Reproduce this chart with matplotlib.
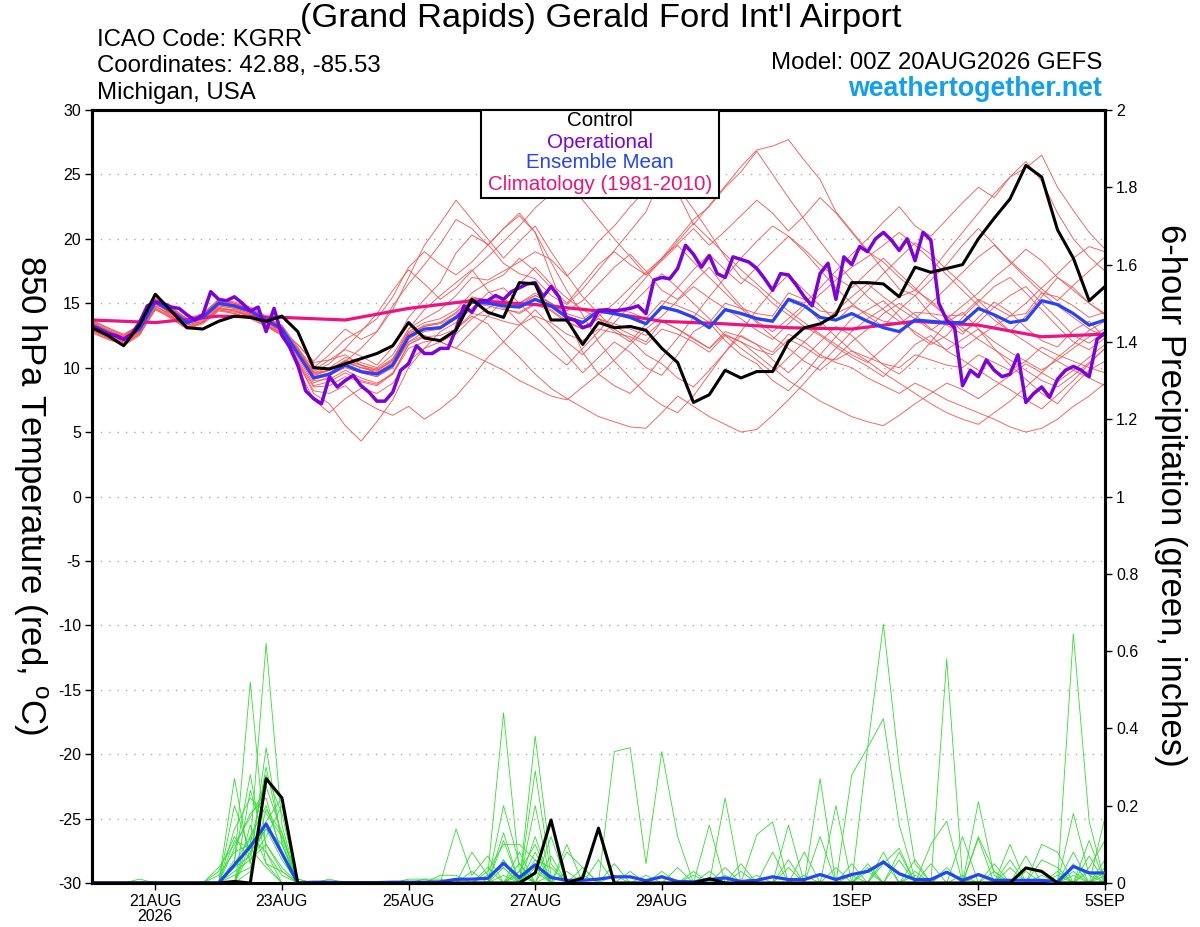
import numpy as np
import pandas as pd
import matplotlib
matplotlib.use('Agg')
import matplotlib.pyplot as plt
from matplotlib.patches import Rectangle

plt.rcParams['font.family'] = ['Liberation Sans', 'DejaVu Sans']

# ---------------- time axes ----------------
times = pd.date_range('2026-08-20 00:00', '2026-09-05 00:00', freq='6h')      # 65 steps
op_times = pd.date_range('2026-08-20 00:00', '2026-09-05 00:00', freq='3h')   # 129 steps
clim_times = pd.date_range('2026-08-20', '2026-09-05', freq='1D')             # 17 days

tick_dates = ['2026-08-21', '2026-08-23', '2026-08-25', '2026-08-27',
              '2026-08-29', '2026-09-01', '2026-09-03', '2026-09-05']
tick_labels = ['21AUG\n2026', '23AUG', '25AUG', '27AUG', '29AUG', '1SEP', '3SEP', '5SEP']

# ---------------- 850 hPa temperature (C) ----------------
control_t = [13.1, 12.5, 11.7, 13.3, 15.7, 14.4, 13.1, 13.0, 13.6, 14.0, 13.9, 13.6, 14.0,
             12.8, 10.0, 9.9, 10.3, 10.7, 11.1, 11.7, 13.5, 12.3, 12.1, 12.9, 15.3, 14.3,
             13.9, 16.6, 16.5, 13.7, 13.7, 11.8, 13.5, 13.1, 13.2, 12.9, 11.5, 10.4, 7.3,
             7.9, 9.8, 9.2, 9.7, 9.7, 12.0, 13.1, 13.4, 14.1, 16.6, 16.6, 16.5, 15.5,
             17.8, 17.4, 17.7, 18.0, 20.0, 21.6, 23.1, 25.7, 24.8, 20.7, 18.5, 15.2, 16.3]

ens_mean_t = [13.3, 12.7, 12.2, 13.0, 15.1, 14.4, 13.5, 13.9, 15.0, 14.8, 14.4, 13.7, 13.0,
              11.1, 9.2, 9.5, 10.2, 9.7, 9.5, 10.2, 12.4, 13.0, 13.1, 13.9, 15.1, 15.0,
              14.8, 14.7, 15.3, 14.8, 13.9, 13.5, 14.4, 14.2, 13.9, 13.4, 14.7, 14.4, 13.9,
              13.1, 14.5, 14.2, 13.8, 13.6, 15.3, 14.8, 13.9, 13.7, 14.2, 13.6, 13.1, 12.8,
              13.7, 13.6, 13.5, 13.5, 14.6, 14.1, 13.5, 13.7, 15.2, 14.9, 14.2, 13.3, 13.7]

operational_t = [13.2, 12.9, 12.6, 12.5, 12.2, 12.6, 13.5, 14.8, 15.1, 15.0, 14.7, 14.6, 14.1,
                 13.7, 14.1, 15.9, 15.3, 15.2, 15.5, 15.0, 14.4, 14.7, 12.8, 14.6, 12.5, 11.6,
                 10.2, 8.2, 7.6, 7.2, 9.3, 8.5, 9.0, 9.4, 8.6, 8.1, 7.4, 7.4, 8.1,
                 9.8, 10.3, 11.7, 11.1, 11.1, 11.5, 11.5, 13.0, 14.8, 14.3, 15.2, 15.2, 15.6,
                 15.3, 15.9, 16.2, 16.5, 16.6, 15.5, 16.3, 15.5, 13.8, 13.7, 13.1, 13.3, 14.4,
                 14.5, 14.4, 14.5, 14.6, 14.8, 14.2, 16.8, 17.0, 16.9, 17.7, 19.5, 18.8, 17.8,
                 18.7, 17.3, 17.0, 18.6, 18.4, 18.2, 17.7, 16.9, 16.0, 17.3, 17.2, 16.4, 15.5,
                 14.8, 17.3, 18.1, 15.3, 18.6, 18.0, 19.4, 19.0, 20.0, 20.5, 19.9, 19.1, 20.0,
                 18.3, 20.5, 19.9, 15.0, 13.7, 13.1, 8.6, 9.8, 9.3, 10.6, 9.8, 9.3, 9.5,
                 11.0, 7.3, 8.0, 8.5, 7.7, 9.1, 9.8, 10.1, 9.8, 9.3, 12.2, 12.7]

climatology_t = [13.7, 13.5, 14.0, 13.9, 13.7, 14.6, 15.2, 14.9, 14.4, 13.6, 13.4, 13.1,
                 13.0, 13.6, 13.3, 12.4, 12.6]

member_t01 = [13.0, 12.4, 12.0, 12.9, 14.8, 14.1, 13.3, 13.7, 14.7, 14.4, 14.1, 13.4, 12.8,
              11.3, 9.8, 10.6, 11.4, 10.9, 10.2, 11.6, 13.9,
              15.3, 16.6, 18.9, 20.3, 19.6, 18.1, 17.3, 16.9, 15.6, 14.9, 16.1, 17.6,
              19.1, 20.6, 22.1, 24.9, 23.6, 21.1, 22.6, 24.1, 25.6, 26.9, 27.2, 27.7, 26.1, 24.6, 22.1, 20.6,
              19.1, 17.6, 16.1, 15.6, 14.1, 13.3, 12.6, 13.9, 15.1, 14.3, 13.1, 12.1, 11.6, 12.9, 13.6, 12.3]
member_t02 = [13.6, 13.1, 12.6, 13.3, 15.4, 14.7, 13.8, 14.1, 15.3, 15.1, 14.7, 14.0, 13.2,
              10.5, 8.0, 7.2, 5.5, 4.3, 5.8, 7.5, 10.0,
              11.5, 12.8, 13.5, 14.6, 15.8, 16.2, 15.0, 13.8, 12.5, 11.0, 9.6, 10.8,
              12.0, 11.2, 10.0, 9.4, 11.0, 12.8, 13.5, 12.1, 11.0, 10.3, 9.0, 8.2, 9.5, 11.0, 12.4, 13.8,
              14.5, 15.2, 14.0, 12.6, 11.8, 12.5, 13.9, 15.1, 16.3, 17.0, 15.8, 14.5, 13.2, 12.0, 11.4, 12.3]
member_t03 = [12.8, 12.2, 11.8, 12.6, 14.5, 13.9, 13.1, 13.5, 14.5, 14.2, 13.9, 13.3, 12.7,
              11.8, 10.5, 11.8, 13.0, 12.2, 12.8, 14.5, 17.0,
              19.5, 21.2, 23.0, 21.5, 20.0, 18.5, 19.8, 21.0, 19.0, 17.2, 15.5, 14.2,
              13.0, 12.2, 11.0, 10.3, 9.2, 8.5, 9.8, 11.2, 12.5, 11.8, 10.6, 9.6, 10.8, 12.0, 13.2, 12.5,
              11.3, 10.2, 9.5, 10.6, 12.0, 13.5, 14.3, 13.0, 11.5, 10.2, 9.1, 8.0, 7.2, 8.6, 9.8, 10.5]
member_t04 = [13.5, 12.9, 12.4, 13.2, 15.2, 14.6, 13.7, 14.0, 15.2, 15.0, 14.6, 13.9, 13.3,
              11.6, 9.6, 9.8, 10.4, 10.0, 9.7, 10.6, 13.0,
              13.8, 14.5, 15.6, 17.0, 16.8, 17.5, 18.2, 19.0, 18.4, 17.1, 18.3, 19.8,
              21.0, 22.5, 23.8, 25.1, 24.0, 22.3, 20.5, 18.6, 17.0, 16.2, 15.0, 14.1, 13.2, 12.5, 11.6, 10.8,
              10.1, 9.3, 10.5, 11.8, 12.5, 11.3, 10.6, 9.8, 9.0, 8.3, 7.5, 6.8, 7.9, 9.0, 10.3, 11.5]
member_t05 = [13.1, 12.6, 12.3, 13.1, 15.0, 14.3, 13.6, 13.8, 14.8, 14.6, 14.2, 13.6, 12.9,
              11.0, 9.0, 9.1, 9.8, 9.2, 8.8, 9.5, 11.8,
              12.4, 12.5, 13.0, 14.0, 13.4, 12.0, 10.8, 9.5, 8.4, 7.6, 6.9, 6.2,
              5.8, 5.4, 5.3, 6.5, 7.8, 7.0, 6.2, 5.6, 5.0, 5.2, 6.3, 7.5, 8.8, 10.2, 11.5, 12.8,
              13.8, 14.6, 15.5, 16.0, 15.2, 14.0, 12.8, 13.5, 14.7, 15.6, 16.3, 15.0, 13.8, 12.5, 11.9, 12.8]
member_t06 = [13.4, 12.8, 12.1, 12.9, 15.0, 14.2, 13.4, 13.8, 14.9, 14.7, 14.3, 13.5, 12.8,
              10.8, 8.8, 9.3, 10.5, 11.5, 12.8, 14.8, 16.5,
              18.0, 19.6, 21.5, 20.8, 19.5, 20.8, 21.8, 20.5, 18.2, 16.0, 14.1, 12.0,
              10.5, 9.2, 8.0, 7.1, 6.5, 7.8, 9.5, 11.2, 12.8, 14.5, 16.0, 17.2, 16.0, 14.8, 13.6, 14.8,
              16.0, 17.3, 18.5, 19.7, 18.8, 17.6, 16.5, 15.2, 14.0, 12.8, 14.0, 15.5, 17.0, 16.2, 15.0, 14.1]
member_t07 = [12.9, 12.3, 11.9, 12.7, 14.6, 14.0, 13.1, 13.5, 14.6, 14.4, 14.0, 13.3, 12.5,
              10.4, 8.5, 8.6, 9.3, 8.9, 8.6, 9.5, 11.5,
              12.0, 12.2, 13.0, 14.2, 14.0, 13.6, 13.3, 14.0, 13.5, 12.6, 12.1, 13.0,
              12.7, 12.4, 11.8, 13.0, 12.6, 12.0, 11.2, 12.5, 12.0, 11.4, 11.0, 12.2, 11.6, 10.8, 10.6, 11.3,
              10.8, 10.3, 10.0, 11.0, 10.6, 10.2, 10.0, 11.0, 10.4, 9.8, 10.5, 11.6, 11.0, 10.5, 10.0, 9.6]
member_t08 = [13.6, 13.0, 12.5, 13.3, 15.3, 14.7, 13.8, 14.2, 15.3, 15.0, 14.6, 13.9, 13.2,
              11.3, 9.4, 9.8, 10.6, 10.2, 9.9, 10.7, 12.7,
              13.2, 13.4, 14.0, 15.3, 15.1, 14.9, 14.8, 15.4, 14.9, 14.0, 13.6, 14.5,
              14.3, 14.0, 13.5, 14.8, 14.5, 14.0, 13.2, 14.6, 14.3, 13.9, 13.7, 15.4, 15.0, 16.2, 17.5, 18.8,
              20.0, 21.3, 22.5, 21.0, 20.2, 21.5, 22.8, 24.0, 23.2, 24.8, 25.5, 26.5, 24.0, 22.2, 20.5, 19.2]
member_t09 = [13.0, 12.5, 12.1, 12.8, 14.7, 14.2, 13.3, 13.6, 14.6, 14.5, 14.1, 13.5, 12.9,
              11.2, 9.3, 9.6, 10.4, 10.0, 9.6, 10.4, 12.5,
              13.2, 13.5, 14.2, 15.5, 15.2, 15.0, 15.0, 15.8, 15.0, 14.0, 13.2, 13.8,
              13.2, 12.6, 12.0, 13.6, 13.0, 12.2, 11.5, 12.8, 12.4, 11.8, 11.2, 12.6, 12.0, 11.0, 10.4, 10.0,
              9.2, 8.6, 8.0, 8.8, 8.2, 7.5, 7.0, 6.5, 6.0, 5.4, 5.0, 5.3, 6.0, 7.0, 7.8, 8.8]
member_t10 = [13.2, 12.6, 12.2, 13.0, 15.2, 14.5, 13.6, 14.0, 15.1, 14.9, 14.5, 13.8, 13.1,
              11.5, 10.0, 11.0, 12.2, 12.9, 13.8, 15.5, 17.8,
              19.0, 18.0, 17.2, 18.2, 19.5, 20.8, 22.0, 20.5, 17.2, 14.0, 11.2, 9.5,
              8.6, 8.0, 9.2, 10.8, 12.3, 13.9, 15.5, 17.0, 18.5, 19.8, 21.0, 20.2, 19.0, 17.6, 16.2, 15.0,
              14.0, 13.2, 14.5, 15.6, 16.8, 18.0, 19.5, 20.8, 19.6, 18.2, 17.0, 15.8, 14.8, 13.9, 13.0, 12.4]
member_t11 = [13.7, 13.1, 12.5, 13.2, 15.0, 14.4, 13.6, 14.0, 15.0, 14.8, 14.4, 13.7, 13.1,
              11.4, 9.7, 10.3, 11.5, 12.8, 14.2, 16.0, 17.6,
              16.5, 15.3, 16.2, 17.5, 18.6, 19.8, 21.0, 22.4, 23.5, 24.5, 23.0, 21.5,
              20.0, 18.6, 17.2, 18.3, 19.5, 18.2, 17.0, 15.8, 14.6, 13.5, 12.4, 11.5, 10.5, 9.8, 10.8, 12.0,
              13.0, 14.2, 15.0, 14.1, 13.0, 12.2, 11.5, 12.4, 13.2, 14.0, 15.0, 16.2, 17.3, 18.5, 19.4, 19.0]
member_t12 = [12.7, 12.2, 11.8, 12.6, 14.5, 13.9, 13.1, 13.5, 14.5, 14.3, 14.0, 13.3, 12.6,
              10.0, 7.5, 6.5, 7.6, 8.4, 8.0, 8.8, 10.5,
              11.5, 12.0, 12.6, 13.8, 14.6, 15.3, 14.8, 15.6, 15.0, 14.4, 15.2, 16.5,
              17.8, 18.8, 17.5, 16.0, 15.3, 16.6, 17.8, 16.2, 14.8, 13.6, 12.8, 13.8, 14.9, 13.6, 12.4, 11.3,
              10.5, 9.6, 8.8, 8.0, 7.2, 6.5, 6.0, 5.6, 6.5, 7.4, 8.5, 9.6, 10.8, 11.8, 12.9, 13.6]
member_t13 = [13.3, 12.8, 12.4, 13.1, 15.0, 14.5, 13.6, 13.9, 15.0, 14.7, 14.3, 13.6, 13.0,
              11.0, 9.1, 9.4, 10.0, 9.6, 9.3, 10.1, 12.2,
              13.0, 13.2, 14.0, 15.0, 15.1, 14.6, 14.2, 14.9, 14.4, 13.5, 13.0, 14.0,
              15.0, 16.2, 17.4, 18.5, 19.6, 20.8, 19.5, 20.6, 21.8, 23.0, 22.0, 20.6, 21.8, 23.2, 22.0, 20.5,
              19.0, 18.2, 17.0, 16.0, 17.4, 19.0, 20.5, 22.0, 23.5, 24.8, 26.0, 24.5, 22.0, 20.0, 18.6, 17.5]
member_t14 = [12.9, 12.3, 11.7, 12.5, 14.6, 13.8, 13.0, 13.4, 14.4, 14.2, 13.8, 13.2, 12.5,
              10.3, 8.2, 8.0, 8.6, 7.5, 6.8, 6.3, 7.0,
              6.0, 6.8, 7.8, 9.2, 10.8, 12.0, 13.3, 14.5, 13.2, 12.0, 11.0, 12.3,
              13.5, 14.8, 16.0, 17.3, 16.2, 15.0, 13.8, 12.5, 11.5, 10.6, 9.6, 10.8, 12.0, 13.2, 14.4, 15.5,
              16.5, 15.5, 14.6, 13.8, 12.9, 13.8, 14.8, 15.8, 17.0, 18.0, 19.2, 18.3, 17.0, 16.0, 15.0, 14.2]
member_t15 = [13.4, 12.9, 12.3, 13.0, 15.1, 14.3, 13.5, 13.9, 15.0, 14.9, 14.5, 13.8, 13.1,
              11.2, 9.4, 9.8, 10.5, 10.2, 9.8, 10.6, 12.8,
              13.5, 13.8, 14.5, 15.8, 16.6, 17.2, 18.5, 17.5, 16.2, 15.0, 16.5, 18.0,
              19.0, 18.0, 17.2, 18.5, 20.0, 21.5, 22.5, 24.0, 25.2, 26.8, 25.0, 23.2, 21.5, 19.8, 18.2, 16.8,
              15.5, 14.5, 13.6, 12.8, 12.0, 11.4, 12.2, 13.0, 12.0, 11.2, 10.5, 9.8, 10.6, 11.5, 12.4, 13.0]
member_t16 = [13.1, 12.7, 12.3, 13.0, 14.9, 14.3, 13.5, 13.8, 14.9, 14.7, 14.3, 13.7, 13.0,
              11.4, 9.6, 10.0, 10.8, 10.4, 10.0, 11.0, 13.0,
              14.5, 15.6, 16.6, 17.6, 16.0, 14.8, 13.5, 12.4, 11.2, 10.2, 11.5, 12.8,
              14.2, 15.6, 17.0, 18.4, 19.8, 21.2, 20.0, 18.8, 17.6, 16.5, 15.4, 14.4, 13.5, 12.6, 11.8, 11.0,
              10.4, 11.5, 12.6, 13.8, 15.0, 16.2, 17.4, 18.6, 19.5, 18.3, 17.2, 16.1, 15.2, 16.4, 17.5, 18.6]
member_t17 = [13.5, 12.9, 12.3, 13.1, 15.0, 14.5, 13.7, 14.1, 15.1, 14.8, 14.4, 13.8, 13.2,
              11.1, 9.2, 9.5, 10.1, 9.6, 9.3, 10.0, 12.0,
              12.8, 13.0, 13.8, 15.0, 14.8, 14.5, 14.3, 15.0, 14.5, 13.6, 13.0, 13.8,
              13.4, 13.0, 12.5, 13.6, 13.0, 12.3, 11.5, 12.6, 12.0, 11.0, 10.0, 9.0, 8.2, 7.4, 6.8, 6.2,
              5.8, 5.5, 6.3, 7.2, 8.0, 8.8, 8.3, 7.6, 8.5, 9.4, 10.3, 9.6, 8.9, 9.8, 10.8, 11.8]
member_t18 = [13.4, 12.9, 12.4, 13.2, 15.3, 14.6, 13.7, 14.1, 15.2, 15.0, 14.5, 13.8, 13.2,
              11.4, 9.5, 9.8, 10.5, 10.0, 9.8, 10.5, 12.6,
              13.3, 13.5, 14.3, 15.4, 15.3, 15.1, 15.0, 15.6, 15.0, 14.2, 13.8, 14.6,
              14.5, 14.3, 13.8, 15.2, 14.8, 14.3, 13.5, 15.0, 14.6, 14.2, 14.0, 15.8, 15.3, 14.4, 14.2, 14.8,
              14.2, 13.6, 13.4, 14.3, 14.2, 14.0, 14.1, 15.3, 14.7, 14.0, 14.2, 15.8, 15.5, 14.8, 13.9, 14.3]
member_t19 = [13.2, 12.6, 12.0, 12.8, 15.0, 14.2, 13.4, 13.8, 14.8, 14.6, 14.2, 13.5, 12.9,
              11.8, 10.4, 10.6, 11.0, 10.2, 9.5, 10.0, 12.0,
              12.5, 12.0, 11.5, 12.8, 14.0, 15.2, 16.5, 17.8, 16.5, 15.4, 14.5, 13.8,
              12.8, 12.0, 13.4, 14.8, 16.2, 17.6, 18.8, 17.6, 16.5, 17.8, 19.0, 20.2, 19.2, 18.0, 17.0, 16.2,
              17.4, 18.5, 17.3, 16.2, 15.0, 14.0, 13.1, 12.2, 11.4, 10.6, 9.8, 9.0, 8.5, 9.4, 10.4, 11.5]
member_t20 = [13.0, 12.4, 11.9, 12.7, 14.8, 14.0, 13.2, 13.6, 14.6, 14.4, 14.0, 13.3, 12.7,
              10.6, 8.6, 8.9, 9.6, 9.0, 8.7, 9.6, 11.8,
              12.4, 12.0, 11.5, 11.0, 10.4, 9.8, 9.0, 8.4, 7.8, 7.5, 8.5, 9.5,
              10.6, 11.8, 13.0, 14.0, 15.2, 16.3, 15.4, 14.6, 13.8, 12.9, 12.2, 13.4, 14.6, 15.7, 16.8, 17.8,
              18.6, 19.5, 20.5, 19.5, 18.4, 17.2, 16.0, 14.8, 13.7, 12.8, 12.0, 11.2, 10.5, 9.8, 9.2, 8.6]

temp_members = [member_t01, member_t02, member_t03, member_t04, member_t05, member_t06, member_t07,
                member_t08, member_t09, member_t10, member_t11, member_t12, member_t13, member_t14,
                member_t15, member_t16, member_t17, member_t18, member_t19, member_t20]

# ---------------- 6-hour precipitation (inches) ----------------
control_p = [0, 0, 0, 0, 0, 0, 0, 0, 0, 0.004, 0, 0.27, 0.22,
             0, 0, 0, 0, 0, 0, 0, 0, 0, 0, 0, 0, 0,
             0, 0, 0.026, 0.163, 0, 0.013, 0.142, 0, 0, 0, 0, 0, 0,
             0.011, 0, 0, 0, 0, 0, 0, 0, 0, 0, 0, 0, 0,
             0, 0, 0, 0, 0, 0, 0, 0.039, 0.03, 0, 0, 0, 0]

ens_mean_p = [0, 0, 0, 0, 0, 0, 0, 0, 0, 0.047, 0.094, 0.153, 0.077,
              0, 0.002, 0.002, 0.001, 0.001, 0.001, 0.002, 0.002, 0.002, 0.003, 0.0095, 0.01, 0.012,
              0.051, 0.014, 0.047, 0.014, 0.007, 0.007, 0.01, 0.016, 0.016, 0.006, 0.016, 0.004, 0.003,
              0.009, 0.013, 0.004, 0.007, 0.016, 0.009, 0.009, 0.022, 0.009, 0.022, 0.03, 0.054, 0.024,
              0.009, 0.009, 0.028, 0.007, 0.022, 0.007, 0.007, 0.007, 0.007, 0.003, 0.043, 0.026, 0.026]

# member precipitation: non-zero 6-h steps only (step index -> inches)
member_p01 = {9: 0.05, 10: 0.52, 11: 0.08, 12: 0.02, 26: 0.20, 27: 0.05, 40: 0.22,
              49: 0.35, 50: 0.67, 51: 0.30, 52: 0.05, 62: 0.02}
member_p02 = {10: 0.10, 11: 0.62, 12: 0.15, 24: 0.08, 25: 0.02, 26: 0.44, 27: 0.03,
              46: 0.27, 54: 0.58, 55: 0.01}
member_p03 = {9: 0.27, 10: 0.05, 11: 0.35, 12: 0.10, 28: 0.38, 29: 0.05, 33: 0.34, 34: 0.35,
              35: 0.05, 36: 0.34, 37: 0.12, 62: 0.645, 63: 0.16}
member_p04 = {9: 0.14, 10: 0.22, 11: 0.18, 12: 0.12, 13: 0.01, 23: 0.14, 24: 0.02, 25: 0.07,
              28: 0.29, 29: 0.02, 48: 0.28, 49: 0.35, 50: 0.425, 51: 0.15, 52: 0.01}
member_p05 = {8: 0.04, 9: 0.10, 10: 0.17, 11: 0.25, 12: 0.13, 26: 0.13, 28: 0.20, 42: 0.125,
              43: 0.158, 56: 0.21, 57: 0.02, 64: 0.17}
member_p06 = {10: 0.12, 11: 0.20, 12: 0.08, 25: 0.03, 26: 0.10, 27: 0.10, 28: 0.06, 29: 0.04,
              39: 0.15, 52: 0.03, 56: 0.115, 63: 0.04, 64: 0.11}
member_p07 = {9: 0.06, 10: 0.28, 11: 0.05, 12: 0.03, 22: 0.02, 23: 0.02, 26: 0.06, 30: 0.10,
              44: 0.15, 47: 0.20, 58: 0.10, 62: 0.18, 63: 0.02}
member_p08 = {9: 0.20, 10: 0.08, 11: 0.14, 12: 0.06, 28: 0.08, 31: 0.04, 35: 0.02, 45: 0.08,
              53: 0.10, 54: 0.16, 61: 0.03, 64: 0.06}
member_p09 = {8: 0.02, 9: 0.08, 10: 0.10, 11: 0.28, 12: 0.18, 27: 0.03, 29: 0.12, 36: 0.03,
              41: 0.05, 50: 0.05, 51: 0.09, 59: 0.07, 63: 0.11}
member_p10 = {10: 0.15, 11: 0.05, 26: 0.06, 28: 0.05, 33: 0.05, 38: 0.03, 46: 0.12, 48: 0.05,
              55: 0.12, 57: 0.03, 62: 0.05}
member_p11 = {9: 0.09, 10: 0.18, 11: 0.22, 12: 0.07, 24: 0.03, 27: 0.02, 32: 0.06, 40: 0.04,
              49: 0.04, 56: 0.12, 57: 0.03, 60: 0.06, 61: 0.04}
member_p12 = {9: 0.03, 10: 0.06, 11: 0.12, 12: 0.20, 25: 0.02, 26: 0.04, 28: 0.12, 30: 0.08,
              31: 0.04, 43: 0.08, 51: 0.08, 58: 0.04, 62: 0.03, 64: 0.02}
member_p13 = {10: 0.24, 11: 0.10, 12: 0.04, 20: 0.01, 21: 0.01, 27: 0.08, 29: 0.02, 37: 0.04,
              44: 0.04, 50: 0.08, 54: 0.03, 63: 0.07}
member_p14 = {9: 0.02, 10: 0.04, 11: 0.16, 12: 0.22, 13: 0.01, 28: 0.03, 34: 0.03, 39: 0.03,
              48: 0.02, 53: 0.05, 60: 0.10, 61: 0.08}
member_p15 = {8: 0.03, 9: 0.12, 10: 0.06, 11: 0.10, 12: 0.03, 26: 0.02, 29: 0.07, 42: 0.02,
              49: 0.03, 51: 0.06, 57: 0.05, 64: 0.03}
member_p16 = {3: 0.01, 10: 0.08, 11: 0.14, 12: 0.10, 27: 0.05, 30: 0.03, 45: 0.02, 52: 0.06,
              59: 0.03, 62: 0.08}
member_p17 = {9: 0.05, 10: 0.12, 11: 0.08, 15: 0.01, 26: 0.11, 28: 0.04, 36: 0.02, 41: 0.03,
              47: 0.04, 55: 0.02, 61: 0.02}
member_p18 = {10: 0.03, 11: 0.19, 12: 0.13, 21: 0.01, 22: 0.01, 26: 0.04, 31: 0.02, 38: 0.02,
              50: 0.06, 56: 0.02, 63: 0.03}
member_p19 = {9: 0.11, 10: 0.09, 11: 0.04, 27: 0.03, 28: 0.10, 33: 0.02, 44: 0.06, 52: 0.02,
              58: 0.06, 64: 0.04}
member_p20 = {9: 0.04, 10: 0.07, 11: 0.30, 12: 0.11, 25: 0.04, 28: 0.06, 40: 0.02, 49: 0.05,
              54: 0.04, 60: 0.02}

precip_members = [member_p01, member_p02, member_p03, member_p04, member_p05, member_p06,
                  member_p07, member_p08, member_p09, member_p10, member_p11, member_p12,
                  member_p13, member_p14, member_p15, member_p16, member_p17, member_p18,
                  member_p19, member_p20]

temp_ticks = [30, 25, 20, 15, 10, 5, 0, -5, -10, -15, -20, -25, -30]
precip_ticks = [0, 0.2, 0.4, 0.6, 0.8, 1.0, 1.2, 1.4, 1.6, 1.8, 2.0]

# ---------------- colours ----------------
C_MEMBER_T = '#ff5050'
C_MEMBER_P = '#2ee02e'
C_OPER = '#7c00e0'
C_MEAN = '#2243ff'
C_CLIM = '#ee117f'
C_LINK = '#10a0f0'

W, H = 1200, 927
fig = plt.figure(figsize=(W / 100, H / 100), dpi=100)
L, R, T, B = 92, 1105, 110, 883
ax = fig.add_axes([L / W, 1 - B / H, (R - L) / W, (B - T) / H])

for m in temp_members:
    ax.plot(times, m, color=C_MEMBER_T, lw=0.6, zorder=2)
ax.plot(clim_times, climatology_t, color=C_CLIM, lw=2.3, zorder=3)
ax.plot(times, ens_mean_t, color=C_MEAN, lw=2.3, zorder=4)
ax.plot(op_times, operational_t, color=C_OPER, lw=2.5, zorder=5)
ax.plot(times, control_t, color='black', lw=2.2, zorder=6)

ax.set_ylim(-30, 30)
ax.set_xlim(times[0], times[-1])
ax.set_yticks(temp_ticks)
ax.set_yticklabels([str(v) for v in temp_ticks])
ax.yaxis.grid(True, linestyle=(0, (1, 5)), color='#aaaaaa', lw=1.0)
ax.set_axisbelow(True)

ax.set_xticks(pd.to_datetime(tick_dates))
ax.set_xticklabels(tick_labels, linespacing=1.0)
ax.tick_params(axis='both', direction='out', length=5, width=1, labelsize=11.5, pad=3)

ax2 = ax.twinx()
for pm in precip_members:
    vals = np.zeros(len(times))
    for k, v in pm.items():
        vals[k] = v
    ax2.plot(times, vals, color=C_MEMBER_P, lw=0.6, zorder=2)
ax2.plot(times, ens_mean_p, color=C_MEAN, lw=2.3, zorder=4)
ax2.plot(times, control_p, color='black', lw=2.2, zorder=5)
ax2.set_ylim(0, 2)
ax2.set_yticks(precip_ticks)
ax2.set_yticklabels([f'{v:g}' for v in precip_ticks])
ax2.tick_params(axis='y', direction='out', length=5, width=1, labelsize=11.5, pad=3)
ax2.set_xlim(times[0], times[-1])

for a in (ax, ax2):
    for s in a.spines.values():
        s.set_linewidth(2.2)
        s.set_color('black')

# axis titles
fig.text(30 / W, 1 - 495 / H, '850 hPa Temperature (red, $^{\\mathregular{o}}$C)',
         rotation=-90, ha='center', va='center', fontsize=25)
fig.text(1170 / W, 1 - 495 / H, '6-hour Precipitation (green, inches)',
         rotation=-90, ha='center', va='center', fontsize=25)

# header
fig.text(601 / W, 1 - 18 / H, "(Grand Rapids) Gerald Ford Int'l Airport",
         ha='center', va='center', fontsize=24.8)
fig.text(97 / W, 1 - 40 / H, 'ICAO Code: KGRR', ha='left', va='center', fontsize=17.3)
fig.text(97 / W, 1 - 66 / H, 'Coordinates: 42.88, -85.53', ha='left', va='center', fontsize=17.3)
fig.text(97 / W, 1 - 93 / H, 'Michigan, USA', ha='left', va='center', fontsize=17.3)
fig.text(1102 / W, 1 - 63 / H, 'Model: 00Z 20AUG2026 GEFS', ha='right', va='center', fontsize=17.3)
fig.text(1102 / W, 1 - 89 / H, 'weathertogether.net', ha='right', va='center', fontsize=19.3,
         fontweight='bold', color=C_LINK)

# legend box
bx0, bx1, by0, by1 = 481, 719, 110, 198
fig.patches.append(Rectangle((bx0 / W, 1 - by1 / H), (bx1 - bx0) / W, (by1 - by0) / H,
                             transform=fig.transFigure, facecolor='white', edgecolor='black',
                             lw=1.5, zorder=10))
leg_items = [('Control', 'black', 121), ('Operational', C_OPER, 142),
             ('Ensemble Mean', C_MEAN, 163), ('Climatology (1981-2010)', C_CLIM, 185)]
for txt, col, yy in leg_items:
    fig.text(600 / W, 1 - yy / H, txt, ha='center', va='center', fontsize=14.8, color=col, zorder=11)

fig.savefig('out.png', dpi=100)
